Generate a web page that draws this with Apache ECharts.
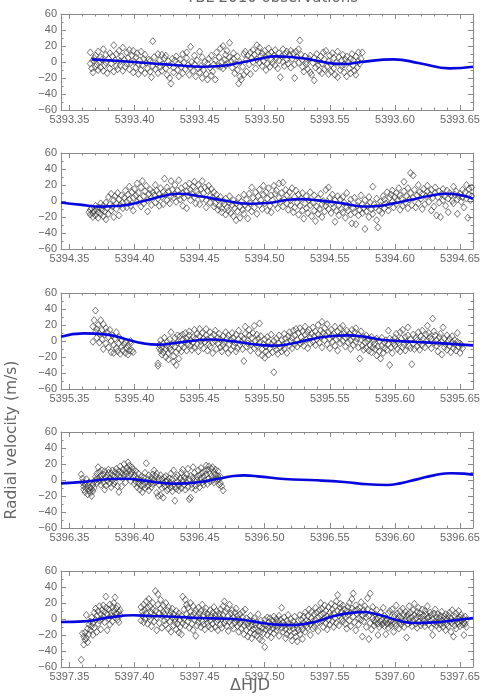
<!DOCTYPE html>
<html>
<head>
<meta charset="utf-8">
<script src="https://cdn.jsdelivr.net/npm/echarts@6/dist/echarts.min.js"></script>
<style>
html,body{margin:0;padding:0;background:#fff;}
#chart{width:491px;height:696px;}
</style>
</head>
<body>
<div id="chart"></div>
<script>
// nights of the TBL 2010 run (HJD - 2450000), one panel each
var days = [5393, 5394, 5395, 5396, 5397];
var xTicks = [0.35, 0.40, 0.45, 0.50, 0.55, 0.60, 0.65];
var yTicks = [-60, -40, -20, 0, 20, 40, 60];

// observations: [fraction of day in thousandths, RV m/s]
var obs1 = [[366,12],[366,-2],[367,-8],[368,2],[368,-13],[369,5],[370,-6],[370,8],[371,-3],[372,-10],[372,13],[373,0],[374,6],[374,-7],[375,3],[376,-11],[376,16],[377,-4],[378,9],[378,-1],[379,-14],[380,4],[381,11],[381,-8],[382,-2],[383,7],[384,-12],[384,21],[385,2],[386,10],[386,-5],[387,-9],[388,14],[389,1],[389,-4],[390,7],[391,18],[391,-11],[392,3],[393,-6],[394,12],[394,-2],[395,5],[396,15],[396,-9],[397,-1],[398,8],[399,-13],[399,14],[400,0],[401,6],[401,-7],[402,11],[403,-15],[403,-3],[404,2],[405,13],[405,-10],[406,-4],[407,4],[408,-14],[408,9],[409,-1],[410,-8],[411,3],[412,1],[412,-12],[413,-19],[414,-5],[414,26],[415,6],[416,-9],[417,-2],[418,10],[418,-14],[419,2],[420,-6],[421,9],[421,-11],[422,-3],[423,5],[424,-8],[424,8],[425,-16],[426,1],[427,-4],[427,-20],[428,-27],[429,4],[430,-7],[430,-13],[431,2],[432,7],[433,-10],[434,-2],[434,-18],[435,3],[436,-6],[437,10],[437,-14],[438,-1],[439,-9],[440,5],[440,12],[441,-4],[442,-16],[443,19],[443,-7],[444,0],[445,-11],[446,8],[446,-3],[447,-18],[448,2],[449,-8],[450,13],[450,-13],[451,-5],[452,6],[452,-20],[453,-10],[454,0],[455,-15],[456,-2],[456,-22],[457,4],[458,-7],[459,8],[459,-17],[460,-12],[461,-3],[462,2],[462,-22],[463,12],[464,-5],[465,6],[466,17],[466,-6],[467,0],[468,20],[468,-8],[469,3],[470,9],[470,-4],[471,14],[472,-2],[473,24],[473,6],[474,1],[475,-7],[476,11],[476,4],[477,-14],[478,-3],[479,-10],[479,7],[480,-27],[481,-18],[481,0],[482,-22],[483,-6],[484,10],[484,-16],[485,13],[486,3],[486,-12],[487,8],[488,-3],[489,12],[489,-15],[490,5],[491,15],[491,0],[492,9],[493,-8],[494,21],[494,3],[495,13],[496,-1],[496,18],[497,7],[498,-5],[498,11],[499,1],[500,14],[501,-10],[501,6],[502,-2],[503,17],[503,9],[504,-6],[505,3],[505,12],[506,-1],[507,8],[508,-4],[508,15],[509,5],[510,-8],[511,11],[511,2],[512,-19],[513,7],[514,0],[514,16],[515,-5],[516,10],[517,3],[517,13],[518,-2],[519,9],[520,14],[520,-7],[521,4],[522,11],[523,-3],[523,-20],[524,13],[525,6],[526,-1],[526,16],[527,27],[528,9],[529,-6],[529,3],[530,-12],[531,7],[532,0],[532,-3],[533,-9],[534,4],[535,-13],[535,8],[536,-16],[537,-1],[538,-23],[538,5],[539,-7],[540,10],[541,-4],[541,2],[542,-11],[543,7],[544,-14],[544,-2],[545,12],[546,3],[546,-9],[547,14],[548,-6],[549,1],[549,-15],[550,8],[551,-3],[551,-12],[552,11],[553,-8],[553,5],[554,-16],[555,-1],[556,-19],[556,13],[557,6],[558,-10],[559,2],[559,-5],[560,9],[561,-13],[561,-3],[562,3],[563,-18],[563,7],[564,0],[565,-8],[566,4],[566,-14],[567,10],[568,-4],[568,2],[569,-11],[570,-16],[570,7],[571,-7],[572,1],[572,12],[573,-2],[574,4],[575,12]];
var obs2 = [[365,-14],[366,-11],[366,-17],[367,-9],[368,-15],[368,-20],[369,-12],[370,-6],[370,-18],[371,-10],[372,-14],[372,-21],[373,-8],[374,-3],[374,-16],[375,-11],[376,-19],[376,-6],[377,-13],[378,-2],[378,-23],[379,-9],[380,-16],[380,5],[381,-4],[382,-12],[382,9],[383,-7],[384,1],[384,-20],[385,6],[386,-3],[386,-10],[387,10],[388,2],[388,-18],[389,-5],[390,7],[391,-2],[391,-9],[392,4],[393,13],[394,-1],[394,-8],[395,8],[396,18],[396,2],[397,-6],[398,11],[399,4],[399,-12],[400,15],[401,7],[402,-1],[402,22],[403,10],[404,3],[405,-7],[405,17],[406,25],[407,6],[407,-3],[408,12],[409,19],[410,1],[410,-13],[411,9],[412,14],[413,4],[413,-5],[414,11],[415,7],[416,-2],[416,20],[417,13],[418,3],[419,9],[419,-6],[420,16],[421,5],[422,-4],[422,11],[423,28],[424,8],[425,1],[425,17],[426,12],[427,-3],[428,6],[428,25],[429,14],[430,4],[431,9],[431,20],[432,-1],[433,13],[434,7],[434,26],[435,2],[436,16],[437,10],[437,-6],[438,4],[439,19],[440,12],[440,-9],[441,7],[442,22],[443,14],[443,1],[444,9],[445,18],[446,24],[446,5],[447,-3],[448,12],[449,20],[449,8],[450,-4],[451,15],[452,3],[452,25],[453,10],[454,17],[455,1],[455,-8],[456,13],[457,19],[458,6],[458,-2],[459,15],[460,4],[461,11],[461,-7],[462,-3],[463,8],[464,-11],[464,2],[465,-6],[466,5],[467,-9],[467,-14],[468,0],[469,-4],[470,-17],[470,3],[471,-8],[472,-12],[473,-2],[473,6],[474,-15],[475,-5],[476,-19],[476,1],[477,-9],[478,-24],[478,-3],[479,-13],[480,4],[481,-7],[481,-21],[482,-1],[483,-11],[484,-16],[484,8],[485,-5],[486,2],[487,-22],[487,-9],[488,9],[489,-3],[490,-13],[490,17],[491,4],[492,-8],[493,11],[493,-1],[494,-16],[495,6],[496,-5],[496,14],[497,1],[498,-10],[499,8],[499,19],[500,-3],[501,11],[502,-12],[502,3],[503,16],[504,-6],[505,7],[505,-14],[506,1],[507,19],[508,9],[508,-4],[509,13],[510,-9],[511,4],[511,22],[512,-1],[513,10],[514,-7],[514,23],[515,2],[516,14],[517,-3],[517,7],[518,-11],[519,11],[520,-5],[520,1],[521,16],[522,-14],[523,5],[523,-8],[524,13],[525,-2],[526,8],[526,-17],[527,-6],[528,3],[529,-12],[529,10],[530,-22],[531,-3],[532,6],[532,-9],[533,-15],[534,1],[535,-5],[535,11],[536,-19],[537,-2],[538,7],[538,-12],[539,-25],[540,-7],[541,3],[541,-16],[542,-10],[543,9],[544,-4],[544,-20],[545,0],[546,-13],[547,14],[547,-6],[548,-1],[549,17],[549,-10],[550,4],[551,-15],[552,-3],[552,8],[553,-8],[554,-26],[554,1],[555,-12],[556,6],[557,-5],[557,-18],[558,2],[559,-10],[560,-14],[560,5],[561,-2],[562,-21],[563,-8],[563,10],[564,-12],[565,-4],[566,-17],[566,2],[567,-28],[568,-9],[569,-14],[569,4],[570,-29],[571,-6],[572,-18],[572,-1],[573,-11],[574,7],[575,-15],[575,-4],[576,-9],[577,-35],[577,1],[578,-13],[579,-6],[580,-20],[580,5],[581,-2],[582,-10],[583,18],[583,-16],[584,-4],[585,-8],[586,-24],[586,3],[587,-33],[588,-12],[589,-1],[589,-6],[590,-15],[591,6],[592,-9],[592,2],[593,-3],[594,11],[595,-12],[595,-5],[596,4],[597,8],[598,-1],[598,13],[599,-8],[600,5],[601,10],[601,-4],[602,1],[603,16],[604,-11],[604,7],[605,3],[606,-6],[607,12],[607,24],[608,-2],[609,6],[610,16],[610,-9],[611,2],[612,35],[612,10],[613,-5],[614,32],[614,4],[615,14],[616,-8],[617,7],[618,20],[618,-3],[619,11],[620,3],[621,-10],[621,9],[622,15],[623,-4],[624,6],[625,19],[625,12],[626,-1],[627,8],[628,-12],[628,14],[629,4],[630,-7],[631,10],[631,17],[632,-18],[633,5],[634,12],[634,-2],[635,-20],[636,9],[637,15],[637,1],[638,6],[639,-6],[640,13],[641,3],[641,-14],[642,10],[643,7],[644,0],[645,18],[645,-3],[646,8],[647,12],[648,-16],[648,2],[649,6],[650,9],[651,-1],[652,14],[652,5],[653,-8],[654,11],[655,3],[655,20],[656,-21],[657,8],[657,15],[658,1],[659,17],[659,6]];
var obs3 = [[368,18],[368,-1],[369,26],[370,38],[370,11],[371,15],[371,4],[372,20],[373,9],[373,-2],[374,26],[375,14],[375,2],[376,21],[376,-10],[377,8],[378,16],[378,-3],[379,11],[380,5],[380,-8],[381,14],[382,0],[382,-14],[383,7],[384,-5],[384,-15],[385,3],[386,-9],[386,11],[387,-13],[388,-3],[388,5],[389,-16],[390,-7],[390,1],[391,-12],[392,-4],[393,-15],[393,-1],[394,-9],[395,-17],[395,-6],[396,-12],[397,0],[397,-3],[398,-12],[399,-14],[418,-31],[418,-28],[419,-9],[419,-5],[420,-12],[420,1],[421,-17],[421,-8],[422,-3],[422,-14],[423,4],[424,-10],[424,-20],[425,-6],[425,-1],[426,-15],[426,-23],[427,2],[427,-9],[428,-12],[428,11],[429,-4],[430,-19],[430,-26],[431,-7],[431,4],[432,-30],[432,-14],[433,-2],[433,7],[434,-10],[434,-22],[435,6],[436,-5],[436,-13],[437,8],[437,2],[438,-8],[439,-1],[439,10],[440,3],[440,-12],[441,-4],[442,7],[442,12],[443,-6],[443,1],[444,-11],[445,5],[445,-2],[446,14],[446,-8],[447,3],[448,-4],[448,9],[449,-13],[450,6],[450,15],[451,0],[451,-5],[452,10],[453,-9],[453,3],[454,-1],[455,15],[455,7],[456,-12],[456,2],[457,-4],[458,11],[458,-7],[459,5],[460,-2],[460,-15],[461,8],[462,0],[462,13],[463,-10],[464,4],[464,-3],[465,9],[466,-8],[466,2],[467,-13],[468,6],[468,-5],[469,-1],[470,11],[470,-9],[471,3],[472,-15],[472,7],[473,-4],[474,1],[474,-11],[475,10],[476,-6],[476,4],[477,-2],[478,8],[478,-13],[479,-9],[480,2],[480,13],[481,-5],[482,6],[482,-1],[483,-10],[484,-25],[484,3],[485,9],[485,18],[486,-7],[487,1],[487,-3],[488,14],[488,7],[489,-12],[490,4],[490,-4],[491,10],[492,-9],[492,19],[493,0],[494,-6],[494,8],[495,-15],[495,3],[496,22],[496,-2],[497,6],[498,-10],[498,-18],[499,-4],[500,-21],[500,2],[501,-13],[501,-7],[502,5],[503,-1],[503,-17],[504,-9],[505,-4],[505,8],[506,-14],[507,0],[507,-39],[508,-6],[509,-11],[509,3],[510,-16],[511,7],[511,-3],[512,-8],[513,1],[513,-13],[514,-5],[515,9],[515,-10],[516,3],[517,-2],[517,-15],[518,6],[519,-6],[519,11],[520,0],[521,-9],[521,4],[522,13],[523,-4],[523,7],[524,15],[525,1],[525,-7],[526,10],[527,-3],[527,16],[528,5],[529,12],[529,-1],[530,-6],[531,8],[531,18],[532,2],[533,-9],[533,11],[534,14],[535,4],[535,-3],[536,9],[537,-1],[537,17],[538,6],[539,12],[539,-5],[540,2],[541,20],[541,8],[542,-2],[543,13],[543,5],[544,24],[544,-8],[545,10],[546,1],[546,16],[547,7],[548,-4],[548,21],[549,11],[550,3],[550,-9],[551,14],[552,6],[552,-1],[553,9],[554,18],[554,-6],[555,2],[556,12],[556,-12],[557,5],[558,16],[558,-3],[559,8],[560,19],[560,0],[561,10],[562,4],[562,-7],[563,13],[564,-2],[564,6],[565,9],[566,-10],[566,1],[567,14],[568,5],[568,-5],[569,11],[570,-1],[570,16],[571,3],[572,-8],[572,8],[573,-22],[574,2],[574,12],[575,-6],[576,5],[576,-11],[577,-2],[578,7],[578,-9],[579,0],[580,-12],[580,3],[581,-5],[582,-14],[582,5],[583,-8],[584,1],[584,-4],[585,-10],[586,-18],[586,3],[587,-7],[588,-13],[588,0],[589,-22],[590,-6],[590,4],[591,-15],[592,-2],[592,-9],[593,1],[594,-11],[595,-4],[595,13],[596,-30],[596,3],[597,-8],[598,1],[598,-15],[599,-3],[600,4],[600,-6],[601,9],[602,-10],[602,0],[603,-2],[604,11],[604,-13],[605,3],[606,-8],[606,14],[607,-4],[608,5],[608,-12],[609,-1],[610,17],[610,7],[611,-6],[612,2],[612,-9],[613,-29],[614,8],[614,-3],[615,-10],[616,4],[617,1],[617,-7],[618,11],[619,-2],[619,-11],[620,6],[621,13],[621,-5],[622,3],[623,-8],[624,8],[624,0],[625,19],[626,-4],[626,10],[627,5],[628,-9],[628,2],[629,28],[630,-2],[630,12],[631,7],[632,-6],[632,1],[633,-13],[634,5],[634,-3],[635,9],[636,-1],[636,-17],[637,17],[638,3],[638,-8],[639,-4],[640,7],[640,-11],[641,0],[642,-6],[642,3],[643,-14],[644,-2],[644,6],[645,-9],[646,1],[646,-4],[647,-12],[648,10],[648,-1],[649,-7],[650,-3],[650,-15],[651,-5],[652,-9]];
var obs4 = [[359,7],[360,-3],[360,2],[361,-8],[361,-12],[362,-5],[362,-15],[363,-10],[363,1],[364,-18],[364,-7],[365,-13],[365,-3],[366,-16],[366,-9],[367,-20],[367,-11],[368,-6],[368,-14],[369,-2],[369,-10],[370,0],[370,4],[371,-4],[371,8],[372,16],[372,2],[373,-1],[373,10],[374,5],[374,-6],[375,12],[375,1],[376,-3],[376,7],[377,-12],[377,11],[378,3],[378,-7],[379,6],[379,-1],[380,9],[380,13],[381,-4],[381,2],[382,8],[382,-9],[383,12],[383,0],[384,-5],[384,5],[385,10],[385,-2],[386,3],[386,14],[387,-8],[387,7],[388,-15],[388,11],[389,4],[389,17],[390,-8],[390,9],[391,13],[391,2],[392,20],[392,6],[393,11],[393,-3],[394,15],[394,8],[395,22],[395,4],[396,12],[396,18],[397,7],[397,-1],[398,16],[398,10],[399,3],[399,13],[400,-5],[400,6],[401,11],[401,-2],[402,2],[402,-9],[403,8],[403,-4],[404,-12],[404,0],[405,-7],[405,4],[406,-15],[406,-1],[407,-6],[407,3],[408,-10],[408,9],[409,21],[409,-3],[410,-8],[410,1],[411,-13],[411,6],[412,-4],[412,-1],[413,3],[413,-9],[414,7],[414,-5],[415,0],[415,12],[416,-3],[416,5],[417,-16],[417,8],[418,-1],[418,-20],[419,2],[419,-6],[420,-19],[420,6],[421,-10],[421,1],[422,-4],[422,-22],[423,3],[423,-8],[424,-2],[424,5],[425,-13],[425,0],[426,-6],[426,-11],[427,2],[427,-3],[428,-9],[428,8],[429,-14],[429,1],[430,12],[430,-5],[431,-26],[431,-8],[432,3],[432,-11],[433,-2],[433,6],[434,-7],[434,-13],[435,2],[435,-4],[436,9],[436,-10],[437,13],[437,-1],[438,4],[438,-6],[439,-12],[439,2],[440,-3],[440,7],[441,-9],[441,14],[442,-24],[442,1],[443,-22],[443,5],[444,-5],[444,-10],[445,3],[445,16],[446,-1],[446,9],[447,-7],[447,-12],[448,4],[448,0],[449,-4],[449,12],[450,6],[450,-9],[451,2],[451,15],[452,-3],[452,9],[453,-6],[453,4],[454,11],[454,-1],[455,18],[455,7],[456,-5],[456,13],[457,2],[457,17],[458,8],[458,-2],[459,14],[459,5],[460,0],[460,16],[461,-3],[461,10],[462,7],[462,13],[463,2],[463,-1],[464,5],[464,11],[465,-6],[465,1],[466,4],[466,-4],[467,-8],[468,-13]];
var obs5 = [[359,-51],[360,-18],[361,-22],[361,-32],[362,-17],[362,-26],[363,5],[363,-24],[364,-12],[364,-29],[365,-7],[365,-19],[366,-3],[366,-14],[367,-9],[367,2],[368,-20],[368,-5],[369,8],[369,-11],[370,-1],[370,13],[371,-16],[371,4],[372,10],[372,-6],[373,16],[373,-2],[374,6],[374,-13],[375,11],[375,0],[376,3],[376,17],[377,-4],[377,9],[378,14],[378,28],[379,6],[379,-14],[380,12],[380,1],[381,-7],[381,18],[382,8],[382,4],[383,15],[383,-3],[384,10],[384,20],[385,27],[385,2],[386,7],[386,13],[387,-1],[387,16],[388,9],[388,-4],[389,11],[389,5],[405,15],[405,-2],[406,9],[406,4],[407,-4],[407,18],[408,11],[408,0],[409,7],[409,22],[410,-6],[410,14],[411,3],[411,25],[412,16],[412,-1],[413,8],[413,-9],[414,12],[414,20],[415,-3],[415,5],[416,35],[416,10],[417,2],[417,-14],[418,18],[418,31],[419,7],[419,-5],[420,13],[420,24],[421,-11],[421,4],[422,9],[422,17],[423,-2],[423,6],[424,20],[424,-7],[425,11],[425,1],[426,15],[426,-12],[427,5],[427,-3],[428,9],[428,-16],[429,2],[429,13],[430,-8],[430,6],[431,-4],[431,0],[432,10],[432,-13],[433,3],[433,-6],[434,7],[434,-17],[435,-1],[435,-10],[436,4],[436,-19],[437,-5],[437,28],[438,12],[438,0],[439,-8],[439,24],[440,6],[440,18],[441,-3],[441,14],[442,2],[442,-11],[443,9],[443,20],[444,-6],[444,4],[445,16],[445,-14],[446,-1],[446,7],[447,11],[447,-21],[448,3],[448,-8],[449,14],[449,-4],[450,6],[450,1],[451,-10],[451,10],[452,-3],[452,18],[453,5],[453,-7],[454,9],[454,-13],[455,0],[455,13],[456,-5],[456,6],[457,-9],[457,2],[458,11],[458,-2],[459,-12],[459,4],[460,8],[460,-6],[461,1],[461,15],[462,-10],[462,5],[463,-4],[463,10],[464,-1],[464,-14],[465,7],[465,3],[466,-7],[466,12],[467,0],[467,-11],[468,16],[468,5],[469,-5],[469,22],[470,9],[470,-2],[471,-9],[471,13],[472,4],[472,-15],[473,18],[473,-3],[474,7],[474,0],[475,-8],[475,11],[476,2],[476,-12],[477,-5],[477,8],[478,-1],[478,13],[479,-9],[479,4],[480,-16],[480,0],[481,6],[481,-6],[482,-3],[482,-12],[483,2],[483,9],[484,-8],[484,-19],[485,-4],[485,12],[486,-14],[486,1],[487,-6],[487,-22],[488,-10],[488,-2],[489,-17],[489,4],[490,-8],[490,-24],[491,-13],[491,-3],[492,-19],[492,1],[493,-7],[493,-12],[494,-21],[494,-4],[495,-15],[495,6],[496,-9],[496,-25],[497,-2],[497,-16],[498,-11],[498,-27],[499,-6],[499,-18],[500,-35],[500,-1],[501,-13],[501,-8],[502,-20],[502,2],[503,-4],[503,-11],[504,-15],[504,1],[505,-7],[505,-23],[506,-2],[506,-12],[507,3],[507,-18],[508,-9],[508,-5],[509,0],[509,-14],[510,-10],[510,-3],[511,4],[511,-21],[512,-7],[512,-1],[513,14],[513,-11],[514,-4],[514,-16],[515,2],[515,-8],[516,-13],[516,-24],[517,-2],[517,-19],[518,-6],[518,5],[519,-15],[519,-10],[520,0],[520,-21],[521,-8],[521,-27],[522,-12],[522,-3],[523,-17],[523,3],[524,-7],[524,-22],[525,-28],[525,-11],[526,-2],[526,-14],[527,-19],[527,5],[528,-9],[528,-1],[529,-13],[529,-25],[530,-5],[530,3],[531,-16],[531,8],[532,-8],[532,-2],[533,-11],[533,4],[534,-4],[534,12],[535,-20],[535,-7],[536,1],[536,9],[537,-12],[537,-3],[538,6],[538,-9],[539,14],[539,-1],[540,-6],[540,8],[541,2],[541,-15],[542,11],[542,-4],[543,20],[543,5],[544,-2],[544,13],[545,-10],[545,7],[546,1],[546,17],[547,-5],[547,10],[548,3],[548,-13],[549,15],[549,-1],[550,8],[550,-7],[551,19],[551,4],[552,-3],[552,12],[553,-10],[553,7],[554,16],[554,1],[555,22],[555,-5],[556,10],[556,30],[557,4],[557,-8],[558,14],[558,19],[559,0],[559,9],[560,-3],[560,17],[561,6],[561,12],[562,-6],[562,3],[563,10],[563,-12],[564,15],[564,5],[565,-2],[565,20],[566,8],[566,-9],[567,13],[567,25],[568,32],[568,3],[569,-4],[569,10],[570,17],[570,-14],[571,6],[571,12],[572,1],[572,-7],[573,14],[573,9],[574,-1],[574,21],[575,-22],[575,5],[576,11],[576,-3],[577,7],[577,16],[578,-10],[578,2],[579,26],[579,12],[580,-25],[580,4],[581,32],[581,-5],[582,9],[582,-13],[583,1],[583,15],[584,-2],[584,-8],[585,6],[585,-4],[586,11],[586,0],[587,-20],[587,-6],[588,3],[588,-10],[589,-3],[589,8],[590,-7],[590,-1],[591,14],[591,-5],[592,-9],[592,4],[593,-19],[593,-3],[594,0],[594,-6],[595,-11],[595,7],[596,-4],[596,10],[597,-2],[597,-8],[598,12],[598,-5],[599,2],[599,-16],[600,-6],[600,5],[601,17],[601,-9],[602,-1],[602,7],[603,-12],[603,3],[604,-4],[604,10],[605,-7],[605,1],[606,13],[606,-3],[607,5],[607,-10],[608,-1],[608,9],[609,-23],[609,3],[610,6],[610,-6],[611,16],[611,0],[612,-4],[612,8],[613,2],[613,-9],[614,11],[614,-2],[615,5],[615,19],[616,-6],[616,1],[617,9],[617,-11],[618,3],[618,14],[619,-3],[619,7],[620,-8],[620,2],[621,12],[621,-5],[622,4],[622,-1],[623,10],[623,-9],[624,-4],[624,6],[625,1],[625,16],[626,-7],[626,3],[627,8],[627,-2],[628,-11],[628,5],[629,-20],[629,0],[630,7],[630,-6],[631,-3],[631,12],[632,2],[632,-8],[633,-4],[633,6],[634,-12],[634,1],[635,-7],[635,4],[636,-2],[636,9],[637,-10],[637,-5],[638,3],[638,-1],[639,-14],[639,6],[640,-6],[640,0],[641,-9],[641,4],[642,-3],[642,8],[643,-16],[643,1],[644,-5],[644,11],[645,-22],[645,-2],[646,3],[646,-8],[647,7],[647,-12],[648,0],[648,-4],[649,10],[649,-6],[650,2],[650,-9],[651,-2],[651,5],[652,-7],[652,1],[653,-4],[653,-20],[654,3],[654,-6],[655,-10],[655,-1]];

// fitted model curve: [fraction of day, RV m/s]
var fit1 = [[0.367,3.3],[0.386,1.5],[0.412,-1.5],[0.432,-4],[0.452,-6],[0.466,-5],[0.481,-1],[0.496,4],[0.508,7],[0.522,6],[0.537,2.5],[0.553,-2],[0.562,-2.5],[0.574,0],[0.599,3.3],[0.619,-1.5],[0.642,-8],[0.660,-6]];
var fit2 = [[0.3435,-1.8],[0.358,-4.5],[0.375,-7],[0.389,-6],[0.407,0],[0.424,7],[0.434,9],[0.450,6],[0.471,0],[0.489,-3.5],[0.502,-2.5],[0.518,1.5],[0.527,2.3],[0.543,0.5],[0.560,-3],[0.575,-6.8],[0.585,-6.5],[0.599,-3],[0.612,1.5],[0.627,6.5],[0.639,9],[0.650,7.5],[0.660,3]];
var fit3 = [[0.3435,5.3],[0.361,9.5],[0.379,8],[0.394,2],[0.407,-3],[0.418,-4.5],[0.433,-2],[0.450,1.2],[0.458,1.8],[0.476,-0.5],[0.491,-4],[0.505,-5.8],[0.520,-3.5],[0.535,2],[0.550,6],[0.563,7],[0.576,5.5],[0.591,1.2],[0.617,-1.2],[0.637,-3],[0.660,-5.5]];
var fit4 = [[0.3435,-4.2],[0.363,-2],[0.381,1.2],[0.394,1.5],[0.407,-0.8],[0.425,-4.2],[0.433,-4.5],[0.450,-2.5],[0.463,1.2],[0.476,5],[0.484,5.8],[0.497,4.2],[0.515,1.2],[0.540,-0.4],[0.561,-2.5],[0.579,-5.4],[0.594,-6.2],[0.604,-4.2],[0.617,0.8],[0.630,5.8],[0.643,8.5],[0.653,8],[0.660,6.7]];
var fit5 = [[0.3435,-3.7],[0.361,-3],[0.381,2],[0.399,4.6],[0.412,3.7],[0.430,2.9],[0.450,1.2],[0.471,0.4],[0.484,-1.2],[0.497,-4.6],[0.509,-7],[0.520,-7.5],[0.527,-7],[0.540,-3],[0.553,3.7],[0.568,8],[0.576,8.7],[0.589,4.6],[0.604,-2.5],[0.614,-5],[0.630,-4.2],[0.645,-1.7],[0.660,1.2]];

var obsAll = [obs1, obs2, obs3, obs4, obs5];
var fitAll = [fit1, fit2, fit3, fit4, fit5];

var gridTops = [14, 153, 293, 432, 571];
var axisGray = '#8a8a8a';
var textGray = '#666';
var font = 'Liberation Sans';

var grids = [], xAxes = [], yAxes = [], series = [];

for (var i = 0; i < days.length; i++) {
    var d = days[i];
    grids.push({left: 61, width: 412, top: gridTops[i], height: 96});

    var majors = xTicks.map(function (t) { return +(d + t).toFixed(2); });
    var minors = [];
    for (var k = 36; k <= 65; k++) {
        if (k % 5 !== 0) minors.push(+(d + k / 100).toFixed(2));
    }
    var xmin = d + 0.3435, xmax = d + 0.66;

    ['bottom', 'top'].forEach(function (pos) {
        // major ticks (+labels on the bottom one)
        xAxes.push({
            gridIndex: i, type: 'value', position: pos, min: xmin, max: xmax,
            axisLine: {show: true, onZero: false, lineStyle: {color: axisGray, width: 1}},
            axisTick: {show: true, inside: true, length: 5, customValues: majors, lineStyle: {color: axisGray}},
            axisLabel: {show: pos === 'bottom', customValues: majors, margin: 4,
                formatter: function (v) { return v.toFixed(2); },
                color: textGray, fontSize: 11, fontFamily: font},
            splitLine: {show: false}
        });
        // minor ticks
        xAxes.push({
            gridIndex: i, type: 'value', position: pos, min: xmin, max: xmax,
            axisLine: {show: false, onZero: false},
            axisTick: {show: true, inside: true, length: 2.5, customValues: minors, lineStyle: {color: axisGray}},
            axisLabel: {show: false},
            splitLine: {show: false}
        });
    });

    ['left', 'right'].forEach(function (pos) {
        yAxes.push({
            gridIndex: i, type: 'value', position: pos, min: yTicks[0], max: yTicks[yTicks.length - 1], interval: 20,
            axisLine: {show: true, onZero: false, lineStyle: {color: axisGray, width: 1}},
            axisTick: {show: true, inside: true, length: 5, lineStyle: {color: axisGray}},
            minorTick: {show: true, splitNumber: 2, length: 2.5, lineStyle: {color: axisGray}},
            axisLabel: {show: pos === 'left', margin: 4, color: textGray, fontSize: 11, fontFamily: font,
                formatter: function (v) { return v < 0 ? '\u2212' + (-v) : '' + v; }},
            splitLine: {show: false}
        });
    });

    series.push({
        type: 'scatter', xAxisIndex: i * 4, yAxisIndex: i * 2,
        symbol: 'diamond', symbolSize: [6, 7],
        itemStyle: {color: 'rgba(0,0,0,0)', borderColor: '#2a2a2a', borderWidth: 0.8},
        data: obsAll[i].map(function (p) { return [d + p[0] / 1000, p[1]]; }),
        silent: true, z: 2
    });
    series.push({
        type: 'line', xAxisIndex: i * 4, yAxisIndex: i * 2,
        smooth: true, showSymbol: false,
        lineStyle: {color: '#0808dc', width: 2.6},
        data: fitAll[i].map(function (p) { return [d + p[0], p[1]]; }),
        silent: true, z: 3
    });
}

var myChart = echarts.init(document.getElementById('chart'));
var option = {
    animation: false,
    backgroundColor: '#fff',
    grid: grids,
    xAxis: xAxes,
    yAxis: yAxes,
    series: series,
    graphic: [
        {type: 'text', x: 272, y: -9, style: {text: 'TBL 2010 observations', fill: textGray,
            fontSize: 15, fontFamily: 'DejaVu Sans', textAlign: 'center', textVerticalAlign: 'top'}},
        {type: 'text', x: 12, y: 440, rotation: Math.PI / 2, style: {text: 'Radial velocity (m/s)', fill: textGray,
            fontSize: 15.5, fontFamily: 'DejaVu Sans', textAlign: 'center', textVerticalAlign: 'middle'}},
        {type: 'text', x: 250, y: 686, style: {text: '\u0394HJD', fill: textGray,
            fontSize: 16, fontFamily: 'DejaVu Sans', textAlign: 'center', textVerticalAlign: 'middle'}}
    ]
};
myChart.setOption(option);
</script>
</body>
</html>
